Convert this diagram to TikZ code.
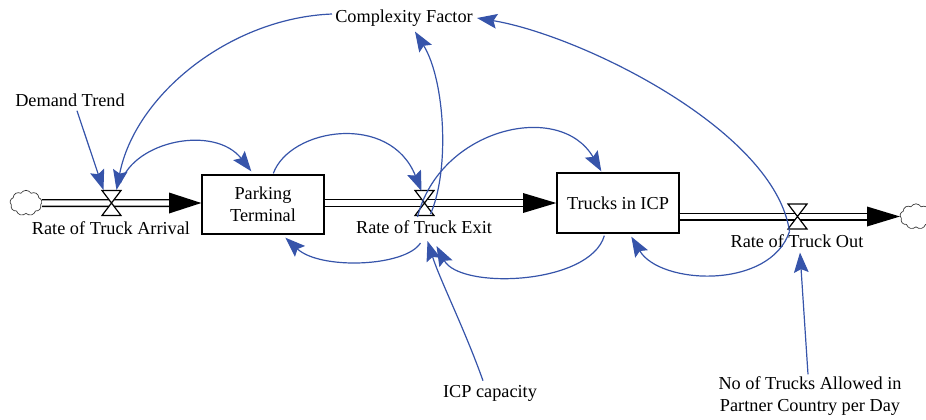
\documentclass[tikz,border=0pt]{standalone}
\usepackage{fontspec}
\setmainfont{Liberation Serif}
\usetikzlibrary{arrows.meta,calc,shapes.symbols}
\definecolor{linkblue}{RGB}{54,84,170}
\tikzset{
  lbl/.style={inner sep=0pt, font=\fontsize{13.7}{16.5}\selectfont, align=center},
  stock/.style={draw, line width=1pt, fill=white, inner sep=0pt,
    font=\fontsize{13.7}{16.5}\selectfont, align=center,
    minimum width=91.5pt},
  pipe/.style={draw=black, line width=1pt, double=white, double distance=4pt},
  tiphead/.style={fill=black},
  link/.style={draw=linkblue, line width=0.9pt,
    -{Stealth[length=15pt,width=11pt,inset=2.5pt]}},
  sink/.style={cloud, cloud puffs=9, cloud puff arc=120, draw=black!80,
    line width=0.5pt, minimum width=24pt, minimum height=19pt, inner sep=0pt, aspect=1.3},
  valvepic/.pic={
    \draw[line width=0.9pt, fill=white]
      (-9.5,-12.5) -- (9.5,-12.5) -- (-9.5,12.5) -- (9.5,12.5) -- cycle;
  }
}
\begin{document}
\begin{tikzpicture}[x=0.75pt,y=-0.75pt]
\useasboundingbox (0,0) rectangle (926,419);

% stocks
\node[stock, minimum height=44.25pt] (pt) at (263,204.5) {Parking\\Terminal};
\node[stock, minimum height=45pt] (icp) at (618,203) {Trucks in ICP};

% sources and sinks
\node[sink] (src) at (26,203) {};
\node[sink] (snk) at (916,216.5) {};

% valve positions
\coordinate (v1) at (111.5,203);
\coordinate (v2) at (424.5,203);
\coordinate (v3) at (797.5,216.5);

% arrow bases of the flow pipes
\coordinate (b1) at (169,203);
\coordinate (b2) at (523,203);
\coordinate (b3) at (867,216.5);

% flow pipes
\draw[pipe] (src.east) -- (b1);
\fill[tiphead] ($(b1)+(0,-10.5)$) -- (pt.west |- b1) -- ($(b1)+(0,10.5)$) -- cycle;
\draw[pipe] (pt.east |- b2) -- (b2);
\fill[tiphead] ($(b2)+(0,-10)$) -- (icp.west |- b2) -- ($(b2)+(0,10)$) -- cycle;
\draw[pipe] (icp.east |- v3) -- (b3);
\fill[tiphead] ($(b3)+(0,-10)$) -- (snk.west |- b3) -- ($(b3)+(0,10)$) -- cycle;

% valves
\pic at (v1) {valvepic};
\pic at (v2) {valvepic};
\pic at (v3) {valvepic};

% labels
\node[lbl] (dt) at (70,100) {Demand Trend};
\node[lbl] (cf) at (404,18) {Complexity Factor};
\node[lbl] (rta) at (111,228) {Rate of Truck Arrival};
\node[lbl] (rte) at (424,227) {Rate of Truck Exit};
\node[lbl] (rto) at (797,241) {Rate of Truck Out};
\node[lbl] (icpc) at (490,393) {ICP capacity};
\node[lbl] (ntr) at (810,396) {No of Trucks Allowed in\\Partner Country per Day};

% information links
\draw[link] ($(dt.south)+(7,4)$) -- ($(v1)+(-8,-13)$);
\draw[link] ($(cf.west)+(-3,-4)$) .. controls (230,18) and (135,95) .. ($(v1)+(5,-13)$);
\draw[link] ($(v1)+(9,-20)$) .. controls (135,140) and (215,125) .. ($(pt.north west)+(50,-3)$);
\draw[link] ($(pt.north west)+(72,-1)$) .. controls (290,128) and (390,112) .. ($(v2)+(-3,-12)$);
\draw[link] ($(v2)+(-4,40)$) .. controls (405,267) and (320,270) .. ($(pt.south west)+(84,3)$);
\draw[link] ($(v2)+(6,11)$) .. controls (450,170) and (445,80) .. ($(cf.south)+(11,5)$);
\draw[link] ($(v2)+(-7,14)$) .. controls (440,128) and (560,100) .. ($(icp.north west)+(45,-1)$);
\draw[link] ($(icp.south west)+(48,2)$) .. controls (590,285) and (460,290) .. ($(v2)+(12,43)$);
\draw[link] ($(icpc.north)+(-7,-4)$) .. controls (465,330) and (440,280) .. ($(v2)+(3,38)$);
\draw[link] ($(v3)+(-8,15)$) .. controls (775,130) and (580,35) .. ($(cf.east)+(4,0)$);
\draw[link] ($(v3)+(-8,15)$) .. controls (770,290) and (660,285) .. ($(icp.south west)+(75,3)$);
\draw[link] ($(ntr.north)+(-2,-2)$) -- ($(v3)+(2.5,36)$);
\end{tikzpicture}
\end{document}
